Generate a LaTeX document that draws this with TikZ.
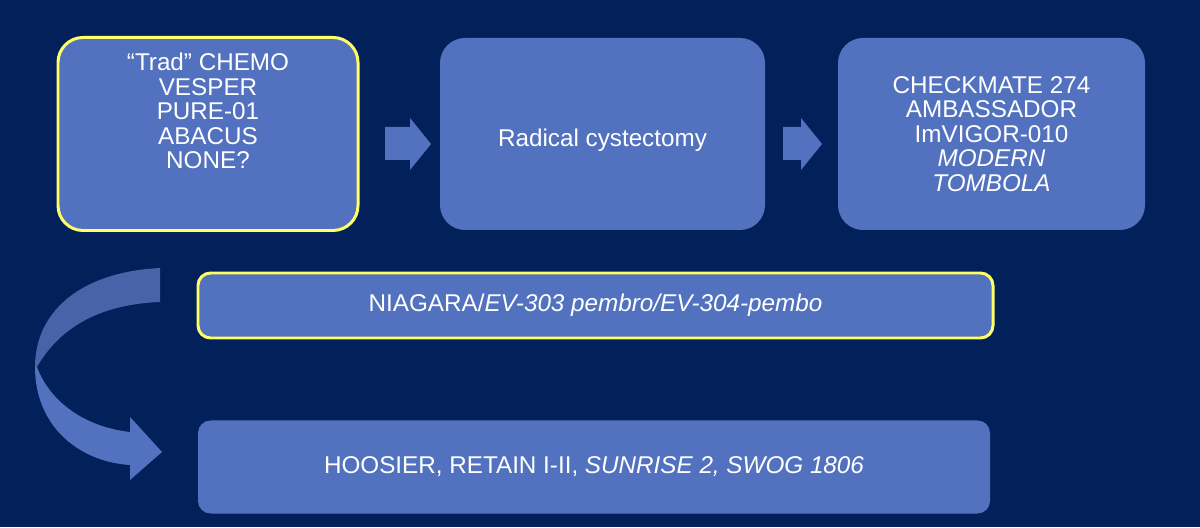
\documentclass[tikz,border=0pt]{standalone}
\usepackage{fontspec}
\setmainfont{Liberation Sans}
\definecolor{bg}{HTML}{022059}
\definecolor{boxc}{HTML}{5272BF}
\definecolor{boxd}{HTML}{4863A8}
\definecolor{yel}{HTML}{FFFF66}
\tikzset{
 bx/.style={fill=boxc,rounded corners=0.5cm,text=white,align=center,font=\fontsize{13.8}{13.9}\selectfont,inner sep=0pt},
 tx/.style={text=white,align=center,font=\fontsize{13.8}{13.9}\selectfont,inner sep=0pt},
 hl/.style={draw=yel,line width=1.7pt},
 blk/.style={fill=boxc}
}
\begin{document}
\begin{tikzpicture}
\fill[bg] (0,0) rectangle (24,10.54);
\useasboundingbox (0,0) rectangle (24,10.54);
\node[bx,hl,minimum width=6cm,minimum height=3.86cm] (b1) at (4.16,7.86) {};
\node[tx] (t1) at ([yshift=0.46cm]b1.center) {``Trad'' CHEMO\\VESPER\\PURE-01\\ABACUS\\NONE?};
\node[bx,minimum width=6.5cm,minimum height=3.84cm] (b2) at (12.05,7.86) {};
\node[tx] (t2) at ([yshift=-0.12cm]b2.center) {Radical cystectomy};
\node[bx,minimum width=6.14cm,minimum height=3.84cm] (b3) at (19.83,7.86) {CHECKMATE 274\\AMBASSADOR\\ImVIGOR-010\\\textit{MODERN}\\\textit{TOMBOLA}};
\node[bx,hl,rounded corners=0.25cm,minimum width=15.9cm,minimum height=1.3cm] (b4) at (11.91,4.43) {NIAGARA/\textit{EV-303 pembro/EV-304-pembo}};
\node[bx,rounded corners=0.25cm,minimum width=15.84cm,minimum height=1.86cm] (b5) at (11.88,1.2) {HOOSIER, RETAIN I-II, \textit{SUNRISE 2, SWOG 1806}};
\fill[blk] (7.7,8.0) -- (8.2,8.0) -- (8.2,8.18) -- (8.62,7.66) -- (8.2,7.14) -- (8.2,7.34) -- (7.7,7.34) -- cycle;
\fill[blk] (15.66,8.0) -- (16.02,8.0) -- (16.02,8.18) -- (16.44,7.66) -- (16.02,7.14) -- (16.02,7.34) -- (15.66,7.34) -- cycle;
\fill[boxd] (3.2,5.18) .. controls (1.6,5.1) and (0.7,4.3) .. (0.7,3.2)
  -- (0.74,3.2) .. controls (1.2,4.0) and (2.0,4.45) .. (3.2,4.5) -- cycle;
\fill[boxc] (0.7,3.2) .. controls (0.7,2.0) and (1.6,1.3) .. (2.6,1.24)
  -- (2.6,0.94) -- (3.24,1.5) -- (2.6,2.2) -- (2.6,1.9)
  .. controls (1.7,2.0) and (1.0,2.5) .. (0.74,3.2) -- cycle;
\end{tikzpicture}
\end{document}
